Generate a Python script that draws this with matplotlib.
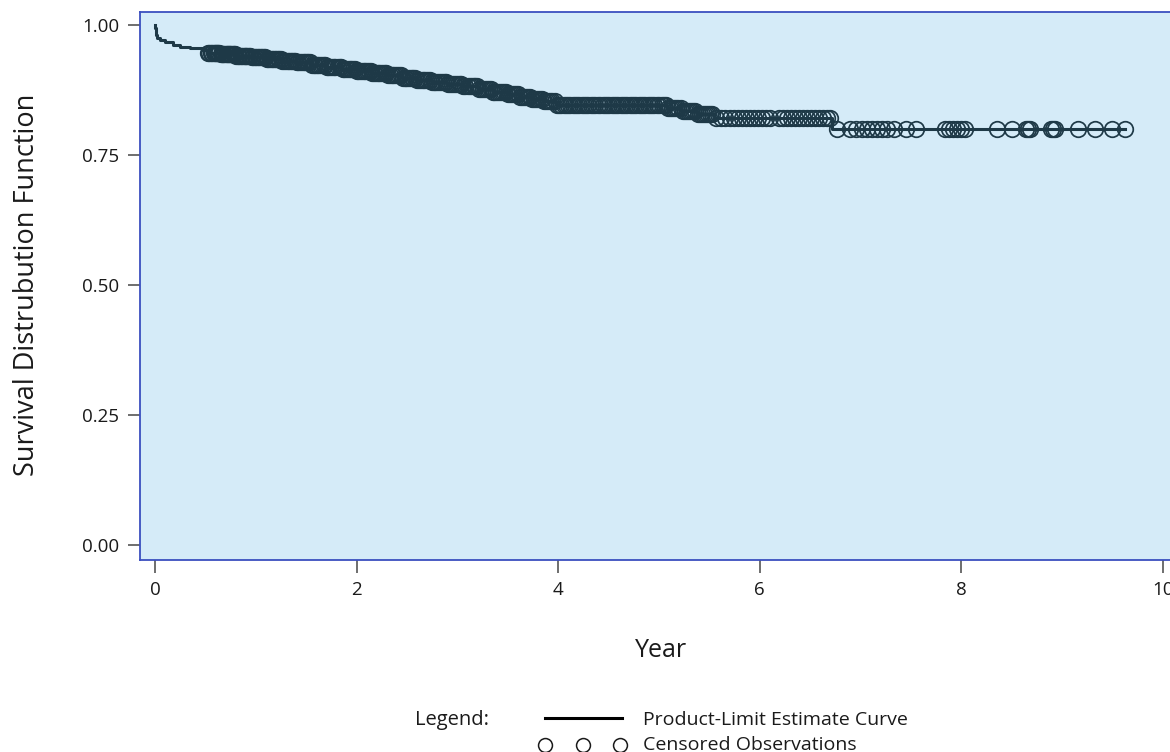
import numpy as np
import matplotlib
matplotlib.use("Agg")
import matplotlib.pyplot as plt
from matplotlib.lines import Line2D

plt.rcParams['font.family'] = ['Open Sans', 'DejaVu Sans']

# Product-limit estimate: step times and survival levels
event_times = [0.0, 0.003, 0.006, 0.009, 0.012, 0.015, 0.05, 0.10, 0.18, 0.25, 0.35, 0.48,
               0.52, 0.65, 0.80, 0.95, 1.10, 1.25, 1.40, 1.55, 1.70, 1.85, 2.00, 2.15,
               2.30, 2.45, 2.60, 2.75, 2.90, 3.05, 3.20, 3.35, 3.50, 3.62, 3.74, 3.86,
               3.98, 5.08, 5.22, 5.38, 5.55, 6.72]
survival = [1.000, 0.995, 0.990, 0.985, 0.980, 0.975, 0.971, 0.967, 0.962, 0.958, 0.955, 0.951,
            0.947, 0.944, 0.941, 0.938, 0.935, 0.931, 0.928, 0.924, 0.920, 0.916, 0.912, 0.908,
            0.903, 0.898, 0.894, 0.890, 0.886, 0.882, 0.877, 0.872, 0.867, 0.862, 0.858, 0.853,
            0.847, 0.840, 0.834, 0.828, 0.821, 0.800]
end_time = 9.62

# Censored observation times
censored_times = [
    0.52, 0.55, 0.58, 0.60, 0.62, 0.65, 0.67, 0.70, 0.72, 0.74, 0.77, 0.79, 0.82, 0.85,
    0.88, 0.90, 0.93, 0.96, 0.99, 1.02, 1.05, 1.08, 1.11, 1.14, 1.17, 1.20, 1.23, 1.26,
    1.30, 1.33, 1.36, 1.39, 1.42, 1.46, 1.49, 1.52, 1.56, 1.59, 1.62, 1.66, 1.69, 1.72,
    1.76, 1.79, 1.83, 1.86, 1.89, 1.93, 1.96, 2.00, 2.03, 2.07, 2.10, 2.14, 2.17, 2.21,
    2.24, 2.28, 2.31, 2.35, 2.38, 2.42, 2.46, 2.49, 2.53, 2.56, 2.60, 2.64, 2.67, 2.71,
    2.75, 2.78, 2.82, 2.86, 2.89, 2.93, 2.97, 3.01, 3.04, 3.08, 3.12, 3.16, 3.19, 3.23,
    3.27, 3.31, 3.35, 3.38, 3.42, 3.46, 3.50, 3.54, 3.58, 3.62, 3.66, 3.70, 3.74, 3.78,
    3.82, 3.86, 3.90, 3.94, 3.99, 4.03, 4.08, 4.12, 4.17, 4.21, 4.26, 4.30, 4.35, 4.39,
    4.44, 4.48, 4.53, 4.57, 4.62, 4.66, 4.71, 4.75, 4.80, 4.84, 4.89, 4.93, 4.98, 5.03,
    5.07, 5.11, 5.15, 5.19, 5.24, 5.28, 5.32, 5.36, 5.41, 5.45, 5.49, 5.53, 5.57, 5.62,
    5.66, 5.70, 5.74, 5.78, 5.82, 5.86, 5.90, 5.94, 5.98, 6.02, 6.06, 6.10, 6.19, 6.23,
    6.27, 6.31, 6.35, 6.39, 6.43, 6.47, 6.51, 6.55, 6.59, 6.63, 6.67, 6.70,
    6.77, 6.90, 6.96, 7.01, 7.06, 7.11, 7.16, 7.21, 7.26, 7.33, 7.45, 7.55,
    7.84, 7.88, 7.92, 7.96, 8.00, 8.04, 8.35, 8.50, 8.64, 8.66, 8.68,
    8.89, 8.91, 8.93, 9.16, 9.33, 9.50, 9.62]
censored_times_more = [
    0.53, 0.565, 0.59, 0.61, 0.635, 0.66, 0.685, 0.71, 0.73, 0.755, 0.78, 0.805, 0.835,
    0.865, 0.89, 0.915, 0.945, 0.975, 1.005, 1.035, 1.065, 1.095, 1.125, 1.155, 1.185,
    1.215, 1.245, 1.28, 1.315, 1.345, 1.375, 1.405, 1.44, 1.475, 1.505, 1.54, 1.575,
    1.605, 1.64, 1.675, 1.705, 1.74, 1.775, 1.81, 1.845, 1.875, 1.91, 1.945, 1.98, 2.015,
    2.05, 2.085, 2.12, 2.155, 2.19, 2.225, 2.26, 2.295, 2.33, 2.365, 2.40, 2.44, 2.475,
    2.51, 2.545, 2.58, 2.62, 2.655, 2.69, 2.73, 2.765, 2.80, 2.84, 2.875, 2.91, 2.95,
    2.99, 3.025, 3.06, 3.10, 3.14, 3.175, 3.21, 3.25, 3.29, 3.33, 3.365, 3.40, 3.44,
    3.48, 3.52, 3.56, 3.60, 3.64, 3.68, 3.72, 3.76, 3.80, 3.84, 3.88, 3.92, 3.965, 4.01,
    4.055, 4.10, 4.145, 4.19, 4.235, 4.28, 4.325, 4.37, 4.415, 4.46, 4.505, 4.55, 4.595,
    4.64, 4.685, 4.73, 4.775, 4.82, 4.865, 4.91, 4.955, 5.00, 5.05, 5.09, 5.13, 5.17,
    5.215, 5.26, 5.30, 5.34, 5.385, 5.43, 5.47, 5.51]

x_ticks = [0, 2, 4, 6, 8, 10]
y_ticks = [0.00, 0.25, 0.50, 0.75, 1.00]
y_ticklabels = ["0.00", "0.25", "0.50", "0.75", "1.00"]

line_color = "#1e3947"
bg_color = "#d5ebf8"
spine_color = "#3b4fbf"

W, H = 1170, 752
fig = plt.figure(figsize=(W / 100, H / 100), dpi=100)
ax = fig.add_axes([140 / W, 1 - 560 / H, 1043 / W, 548 / H])
ax.set_facecolor(bg_color)

et = np.array(event_times)
sv = np.array(survival)
xs = np.append(et, end_time)
ys = np.append(sv, sv[-1])
ax.step(xs, ys, where='post', color=line_color, lw=2.2, zorder=3)

ct = np.sort(np.array(censored_times + censored_times_more))
idx = np.searchsorted(et, ct, side='right') - 1
cy = sv[idx]
ax.plot(ct, cy, linestyle='none', marker='o', markersize=11.2, markerfacecolor='none',
        markeredgecolor=line_color, markeredgewidth=1.25, zorder=4)

ax.set_xlim(-0.15, 10.2)
ax.set_ylim(-0.0288, 1.025)
ax.set_xticks(x_ticks)
ax.set_xticklabels([str(v) for v in x_ticks])
ax.set_yticks(y_ticks)
ax.set_yticklabels(y_ticklabels)
ax.tick_params(axis='both', direction='out', length=9, width=1.2, color='#555555',
               labelsize=13.5, labelcolor='#1a1a1a', pad=6)
for s in ax.spines.values():
    s.set_color(spine_color)
    s.set_linewidth(1.3)

ax.set_xlabel("Year", fontsize=18, labelpad=28, color='#1a1a1a')
fig.text(27 / W, 1 - 285 / H, "Survival Distrubution Function", rotation=90,
         ha='center', va='center', fontsize=19.5, color='#1a1a1a')

# Legend
fig.text(415 / W, 1 - 720 / H, "Legend:", ha='left', va='center', fontsize=14.5, color='#1a1a1a')
fig.add_artist(Line2D([545 / W, 622 / W], [1 - 718 / H, 1 - 718 / H],
                      transform=fig.transFigure, color='black', lw=2.2))
fig.text(643 / W, 1 - 720 / H, "Product-Limit Estimate Curve", ha='left', va='center',
         fontsize=14, color='#1a1a1a')
for px in [545, 583, 620]:
    fig.add_artist(Line2D([px / W], [1 - 745 / H], transform=fig.transFigure, marker='o',
                          markersize=10, markerfacecolor='none', markeredgecolor='#1a1a1a',
                          markeredgewidth=1.1, linestyle='none'))
fig.text(643 / W, 1 - 745 / H, "Censored Observations", ha='left', va='center',
         fontsize=14, color='#1a1a1a')

fig.savefig("out.png", dpi=100)
